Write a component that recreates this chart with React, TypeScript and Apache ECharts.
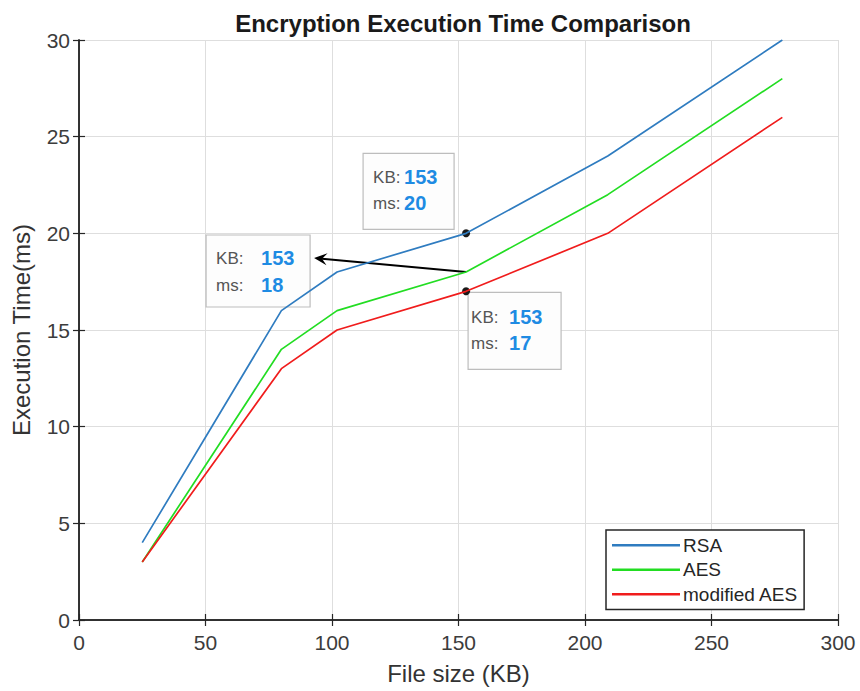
import React, { useEffect, useRef } from "react";
import * as echarts from "echarts";

const fileSize = [25, 80, 102, 153, 209, 278];
const rsa = [4, 16, 18, 20, 24, 30];
const aes = [3, 14, 16, 18, 22, 28];
const modAes = [3, 13, 15, 17, 20, 26];
const seriesNames = ["RSA", "AES", "modified AES"];
const seriesColors = ["#2f7cc0", "#22dd22", "#f01c1c"];
const tipTop = { x: 153, y: 20 };
const tipBottom = { x: 153, y: 17 };
const tipArrow = { x: 153, y: 18 };

const FONT = "Liberation Sans";
const AXIS = "#262626";

export default function App() {
  const ref = useRef<HTMLDivElement>(null);
  useEffect(() => {
    document.body.style.margin = "0";
    const el = ref.current!;
    const chart = echarts.init(el, null, { renderer: "svg" });
    const mk = (ys: number[]) => fileSize.map((x, i) => [x, ys[i]]);
    const datasets = [rsa, aes, modAes];
    const axisCommon = {
      type: "value" as const,
      axisLine: { show: true, lineStyle: { color: AXIS, width: 1.5 } },
      axisTick: { show: true, inside: true, length: 6, lineStyle: { color: AXIS, width: 1.2 } },
    };
    chart.setOption({
      animation: false,
      backgroundColor: "#fff",
      textStyle: { fontFamily: FONT },
      title: {
        text: "Encryption Execution Time Comparison",
        left: 458,
        top: 6,
        textAlign: "center",
        textStyle: { fontFamily: FONT, fontWeight: "bold", fontSize: 24, color: "#1a1a1a" },
      },
      grid: { left: 79, right: 22, top: 40, bottom: 71, containLabel: false },
      xAxis: [
        {
          ...axisCommon,
          position: "bottom",
          min: 0,
          max: 300,
          interval: 50,
          name: "File size (KB)",
          nameLocation: "middle",
          nameGap: 41,
          nameTextStyle: { fontFamily: FONT, fontSize: 24, color: "#333" },
          axisLabel: { fontFamily: FONT, fontSize: 21, color: "#3c3c3c", margin: 12 },
          splitLine: { show: true, lineStyle: { color: "#dedede", width: 1 } },
        },
        {
          ...axisCommon,
          position: "top",
          min: 0,
          max: 300,
          interval: 50,
          axisLabel: { show: false },
          splitLine: { show: false },
        },
      ],
      yAxis: [
        {
          ...axisCommon,
          position: "left",
          min: 0,
          max: 30,
          interval: 5,
          name: "Execution Time(ms)",
          nameLocation: "middle",
          nameGap: 46,
          nameTextStyle: { fontFamily: FONT, fontSize: 24, color: "#333" },
          axisLabel: { fontFamily: FONT, fontSize: 21, color: "#3c3c3c", margin: 9 },
          splitLine: { show: true, lineStyle: { color: "#dedede", width: 1 } },
        },
        {
          ...axisCommon,
          position: "right",
          min: 0,
          max: 30,
          interval: 5,
          axisLabel: { show: false },
          splitLine: { show: false },
        },
      ],
      legend: {
        orient: "vertical",
        left: 606,
        top: 530,
        padding: [3, 6, 3, 6],
        icon: "rect",
        itemWidth: 68,
        itemHeight: 2.5,
        itemGap: 0,
        backgroundColor: "#fff",
        borderColor: AXIS,
        borderWidth: 1.5,
        borderRadius: 0,
        textStyle: { fontFamily: FONT, fontSize: 19, color: "#262626", lineHeight: 24.5, padding: [0, 0, 0, -2] },
        data: seriesNames,
      },
      series: seriesNames.map((name, i) => ({
        name,
        type: "line",
        xAxisIndex: 0,
        yAxisIndex: 0,
        data: mk(datasets[i]),
        showSymbol: false,
        symbol: "none",
        color: seriesColors[i],
        lineStyle: { color: seriesColors[i], width: 1.7 },
        z: 2 + i,
      })),
    });

    const toPx = (p: { x: number; y: number }) =>
      chart.convertToPixel({ xAxisIndex: 0, yAxisIndex: 0 }, [p.x, p.y]) as number[];

    const labelStyle = (text: string, x: number, y: number) => ({
      type: "text",
      x,
      y,
      style: { text, fontFamily: FONT, fontSize: 17, fill: "#555", verticalAlign: "middle" },
    });
    const valueStyle = (text: string, x: number, y: number) => ({
      type: "text",
      x,
      y,
      style: { text, fontFamily: FONT, fontSize: 20, fontWeight: "bold", fill: "#1e8be3", verticalAlign: "middle" },
    });
    const box = (x: number, y: number, w: number, h: number) => ({
      type: "rect",
      shape: { x, y, width: w, height: h },
      style: { fill: "#fdfdfd", stroke: "#bdbdbd", lineWidth: 1.2 },
    });

    const pT = toPx(tipTop);
    const pB = toPx(tipBottom);
    const pA = toPx(tipArrow);
    const tip = [pA[0] - 152, pA[1] - 14];
    const dx = tip[0] - pA[0];
    const dy = tip[1] - pA[1];
    const len = Math.sqrt(dx * dx + dy * dy);
    const u = [dx / len, dy / len];
    const n = [-u[1], u[0]];
    const hl = 13;
    const hw = 6;
    const notch = 8;
    const headPts = [
      [tip[0], tip[1]],
      [tip[0] - hl * u[0] + hw * n[0], tip[1] - hl * u[1] + hw * n[1]],
      [tip[0] - notch * u[0], tip[1] - notch * u[1]],
      [tip[0] - hl * u[0] - hw * n[0], tip[1] - hl * u[1] - hw * n[1]],
    ];

    chart.setOption({
      graphic: [
        {
          type: "group",
          z: 100,
          children: [
            box(pT[0] - 103, pT[1] - 80, 91, 76),
            labelStyle("KB:", pT[0] - 93, pT[1] - 56),
            valueStyle("153", pT[0] - 62, pT[1] - 56),
            labelStyle("ms:", pT[0] - 93, pT[1] - 30),
            valueStyle(String(tipTop.y), pT[0] - 62, pT[1] - 30),
            { type: "circle", shape: { cx: pT[0], cy: pT[1], r: 4 }, style: { fill: "#1a1a1a" } },
          ],
        },
        {
          type: "group",
          z: 100,
          children: [
            box(pB[0] + 2, pB[1] + 1, 93, 77),
            labelStyle("KB:", pB[0] + 5, pB[1] + 26),
            valueStyle("153", pB[0] + 43, pB[1] + 26),
            labelStyle("ms:", pB[0] + 5, pB[1] + 52),
            valueStyle(String(tipBottom.y), pB[0] + 43, pB[1] + 52),
            { type: "circle", shape: { cx: pB[0], cy: pB[1], r: 4 }, style: { fill: "#1a1a1a" } },
          ],
        },
        {
          type: "group",
          z: 100,
          children: [
            box(pA[0] - 260, pA[1] - 37, 104, 72),
            labelStyle("KB:", pA[0] - 250, pA[1] - 14),
            valueStyle("153", pA[0] - 205, pA[1] - 14),
            labelStyle("ms:", pA[0] - 250, pA[1] + 13),
            valueStyle(String(tipArrow.y), pA[0] - 205, pA[1] + 13),
            {
              type: "line",
              shape: { x1: pA[0], y1: pA[1], x2: tip[0] - notch * u[0], y2: tip[1] - notch * u[1] },
              style: { stroke: "#000", lineWidth: 1.8 },
            },
            { type: "polygon", shape: { points: headPts }, style: { fill: "#000" } },
          ],
        },
      ],
    });

    return () => chart.dispose();
  }, []);
  return <div ref={ref} style={{ width: 860, height: 691 }} />;
}
